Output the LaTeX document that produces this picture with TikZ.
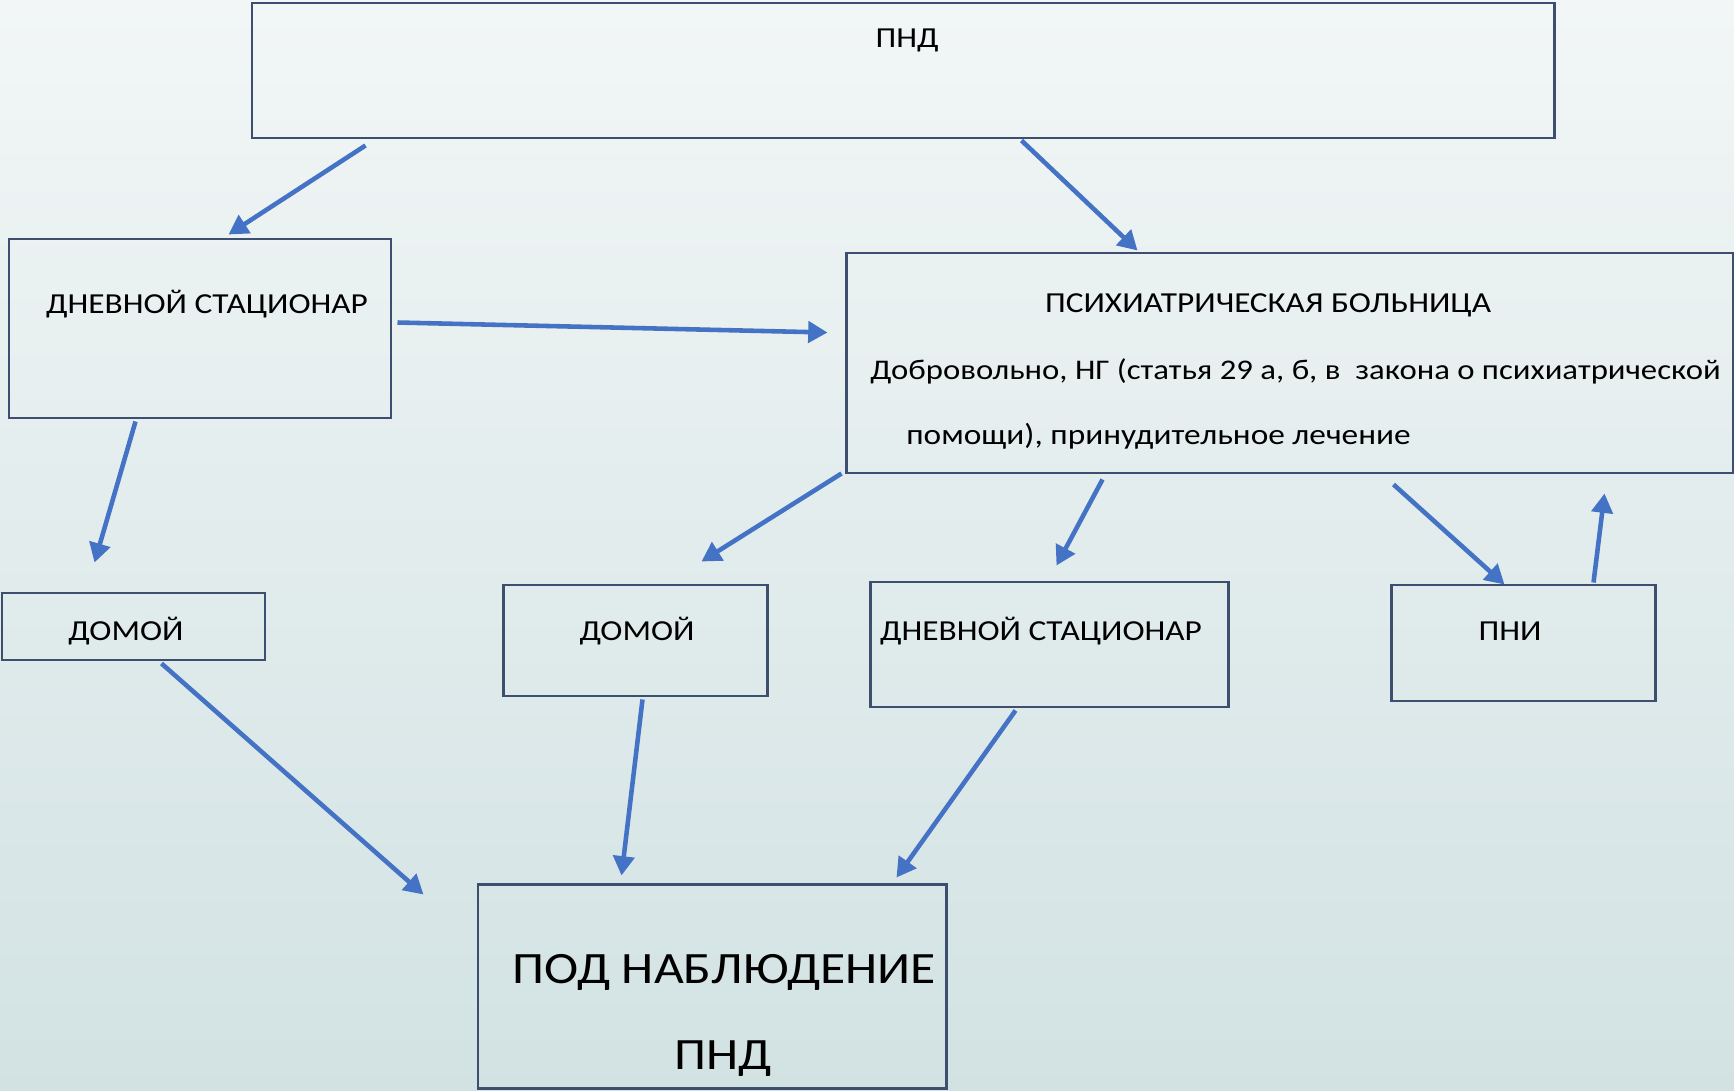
\documentclass[tikz,border=0pt]{standalone}
\usepackage{fontspec}
\setmainfont{Carlito}[FakeStretch=1.15]
\usetikzlibrary{calc,fit,arrows.meta}
\definecolor{boxline}{RGB}{62,78,110}
\definecolor{arrblue}{RGB}{68,114,196}
\definecolor{bgtop}{RGB}{242,246,246}
\definecolor{bgbot}{RGB}{210,226,227}

\tikzset{
  box/.style={draw=boxline, line width=1.7pt, inner sep=0pt},
  txt/.style={inner sep=0pt, anchor=base, font=\fontsize{16.5}{20}\selectfont},
  bigtxt/.style={txt, font=\fontsize{25.5}{30}\selectfont},
  arr/.style={draw=arrblue, line width=2.6pt, -{Triangle[length=11pt,width=12pt]}}
}

\begin{document}
\begin{tikzpicture}[x=0.02cm,y=-0.02cm]
  \shade[top color=bgtop, bottom color=bgbot] (0,0) rectangle (1734,1091);
  \useasboundingbox (0,0) rectangle (1734,1091);

  % boxes
  \foreach \n/\xa/\ya/\xb/\yb in {pnd/252/3/1554/138, dsa/9/239/391/418, pb/846/253/1733/473,
      homea/2/593/265/660, homeb/503/585/767/696, dsb/870/582/1228/707,
      pni/1391/585/1655/701, obs/478/884/946/1088}
    \node[box, fit={(\xa,\ya) (\xb,\yb)}] (\n) {};

  % texts
  \node[txt] (tpnd) at (907,48) {ПНД};
  \node[txt] (tdsa) at (207,313) {ДНЕВНОЙ СТАЦИОНАР};
  \node[txt] (tpb1) at (1268,312) {ПСИХИАТРИЧЕСКАЯ БОЛЬНИЦА};
  \node[txt, anchor=base west, font=\fontsize{16.2}{20}\selectfont] (tpb2) at (870,379) {Добровольно, НГ (статья 29 а, б, в \ закона о психиатрической};
  \node[txt, anchor=base west] (tpb3) at (906,444) {помощи), принудительное лечение};
  \node[txt] (thomea) at (126,640) {ДОМОЙ};
  \node[txt] (thomeb) at (637,640) {ДОМОЙ};
  \node[txt] (tdsb) at (1041,640) {ДНЕВНОЙ СТАЦИОНАР};
  \node[txt] (tpni) at (1510,640) {ПНИ};
  \node[bigtxt] (tobs1) at (724,983) {ПОД НАБЛЮДЕНИЕ};
  \node[bigtxt] (tobs2) at (723,1069) {ПНД};

  % arrows
  \draw[arr] ($(pnd.south west)+(115,6)$) -- ($(dsa.north west)+(221,-3)$);
  \draw[arr] ($(pnd.south west)+(771,1)$) -- ($(pb.north west)+(293,-1)$);
  \draw[arr] ($(dsa.north east)+(5,85)$) -- ($(pb.north west)+(-17,81)$);
  \draw[arr] ($(dsa.south west)+(128,2)$) -- ($(homea.north west)+(94,-29)$);
  \draw[arr] ($(pb.south west)+(-3,-1)$) -- ($(homeb.north west)+(200,-22)$);
  \draw[arr] ($(pb.south west)+(258,5)$) -- ($(dsb.north west)+(188,-15)$);
  \draw[arr] ($(pb.south west)+(549,10)$) -- ($(pni.north west)+(115,1)$);
  \draw[arr] ($(pni.north west)+(204,-1)$) -- ($(pb.south west)+(760,19)$);
  \draw[arr] ($(homea.south west)+(161,2)$) -- ($(obs.north west)+(-53,12)$);
  \draw[arr] ($(homeb.south west)+(141,2)$) -- ($(obs.north west)+(145,-7)$);
  \draw[arr] ($(dsb.south west)+(147,2)$) -- ($(obs.north west)+(420,-5)$);
\end{tikzpicture}
\end{document}
